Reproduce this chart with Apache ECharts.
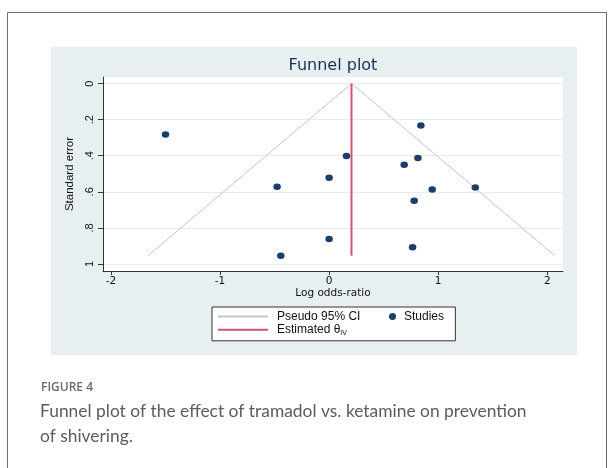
<!DOCTYPE html>
<html>
<head>
<meta charset="utf-8">
<script src="https://cdn.jsdelivr.net/npm/echarts@6/dist/echarts.min.js"></script>
<style>
  html, body { margin: 0; padding: 0; background: #ffffff; }
  #chart { width: 614px; height: 468px; }
</style>
</head>
<body>
<div id="chart"></div>
<script>
// ---- data ----
const studyPoints = [
  [-1.50, 0.282],
  [0.159, 0.402],
  [0.00, 0.522],
  [-0.477, 0.572],
  [0.00, 0.862],
  [-0.443, 0.954],
  [0.841, 0.232],
  [0.814, 0.412],
  [0.688, 0.450],
  [0.945, 0.587],
  [1.340, 0.576],
  [0.780, 0.650],
  [0.765, 0.908]
];
const funnelLine = [[-1.66, 0.954], [0.205, 0], [2.07, 0.954]];
const estimateLine = [[0.205, 0], [0.205, 0.954]];
const xTicks = [-2, -1, 0, 1, 2];
const xTickLabels = ['-2', '-1', '0', '1', '2'];
const yTicks = [0, 0.2, 0.4, 0.6, 0.8, 1];
const yTickLabels = ['0', '.2', '.4', '.6', '.8', '1'];
const seriesNames = ['Pseudo 95% CI', 'Studies', 'Estimated θIV'];

const chart = echarts.init(document.getElementById('chart'), null, { renderer: 'canvas' });

function tickLabel(ticks, labels) {
  return function (v) {
    for (let i = 0; i < ticks.length; i++) {
      if (Math.abs(ticks[i] - v) < 1e-6) return labels[i];
    }
    return '';
  };
}

const option = {
  animation: false,
  backgroundColor: '#ffffff',
  graphic: [
    {
      type: 'rect', z: -100, silent: true,
      shape: { x: 7.5, y: 12.5, width: 599, height: 500 },
      style: { fill: '#ffffff', stroke: '#6e6e6e', lineWidth: 1 }
    },
    {
      type: 'rect', z: -90, silent: true,
      shape: { x: 51, y: 47, width: 526, height: 308 },
      style: { fill: '#e8eff1' }
    }
  ],
  title: [
    {
      text: 'Funnel plot',
      left: 333, top: 58, textAlign: 'center', padding: 0,
      textStyle: { fontFamily: 'DejaVu Sans', fontSize: 16, fontWeight: 'normal', color: '#1e2d55' }
    },
    {
      text: 'FIGURE 4',
      left: 41, top: 382, padding: 0,
      textStyle: { fontFamily: 'Open Sans', fontSize: 12, fontWeight: 600, color: '#6a6a6a' }
    },
    {
      text: 'Funnel plot of the effect of tramadol vs. ketamine on prevention\nof shivering.',
      left: 40, top: 399, padding: 0,
      textStyle: { fontFamily: 'Lato', fontSize: 17.4, fontWeight: 'normal', color: '#5c5c5c', lineHeight: 25 }
    }
  ],
  grid: {
    left: 103, right: 51, top: 77, bottom: 197,
    show: true, backgroundColor: '#ffffff', borderWidth: 0,
    outerBoundsMode: 'none'
  },
  xAxis: {
    type: 'value',
    min: -2.073, max: 2.144,
    name: 'Log odds-ratio',
    nameLocation: 'middle', nameGap: 13,
    nameTextStyle: { fontFamily: 'DejaVu Sans', fontSize: 10.5, color: '#111' },
    axisLine: { show: true, onZero: false, lineStyle: { color: '#333', width: 1 } },
    axisTick: { show: true, length: 4, inside: false, customValues: xTicks, lineStyle: { color: '#333' } },
    axisLabel: {
      customValues: xTicks, margin: 5,
      formatter: tickLabel(xTicks, xTickLabels),
      fontFamily: 'DejaVu Sans', fontSize: 10.5, color: '#111'
    },
    splitLine: { show: false }
  },
  yAxis: {
    type: 'value',
    inverse: true,
    min: -0.0365, max: 1.039,
    name: 'Standard error',
    nameLocation: 'middle', nameGap: 21,
    nameTextStyle: { fontFamily: 'Liberation Sans', fontSize: 11.5, color: '#111' },
    axisLine: { show: true, onZero: false, lineStyle: { color: '#333', width: 1 } },
    axisTick: { show: true, length: 5, inside: false, customValues: yTicks, lineStyle: { color: '#333' } },
    axisLabel: {
      customValues: yTicks, margin: 8, rotate: 90,
      formatter: tickLabel(yTicks, yTickLabels),
      fontFamily: 'Liberation Sans', fontSize: 11, color: '#111'
    },
    splitLine: { show: true, lineStyle: { color: '#e6eef1', width: 1 } }
  },
  legend: [
    {
      data: [seriesNames[0], seriesNames[2]],
      orient: 'vertical',
      left: 212, top: 307,
      padding: [3.5, 95, 4.5, 5],
      itemGap: 1.3,
      itemWidth: 50, itemHeight: 10,
      borderColor: '#333', borderWidth: 1, borderRadius: 0,
      backgroundColor: '#ffffff',
      selectedMode: false,
      itemStyle: { color: 'transparent', borderColor: 'transparent', borderWidth: 0, opacity: 0 },
      formatter: function (name) {
        if (name === seriesNames[2]) return '{a|Estimated θ}{s|IV}';
        return '{a|' + name + '}';
      },
      textStyle: {
        fontFamily: 'Liberation Sans', fontSize: 12, color: '#111', padding: [0, 0, 0, 4],
        rich: {
          a: { fontFamily: 'Liberation Sans', fontSize: 12, color: '#111' },
          s: { fontFamily: 'Liberation Sans', fontSize: 7, color: '#111', padding: [6, 0, 0, 0] }
        }
      }
    },
    {
      data: [seriesNames[1]],
      orient: 'horizontal',
      left: 389, top: 310.5,
      padding: 0,
      itemWidth: 7, itemHeight: 7,
      selectedMode: false,
      textStyle: { fontFamily: 'Liberation Sans', fontSize: 12, color: '#111', padding: [0, 0, 0, 3] }
    }
  ],
  series: [
    {
      name: seriesNames[0],
      type: 'line',
      data: funnelLine,
      symbol: 'none',
      lineStyle: { color: '#c6c6c6', width: 1 },
      itemStyle: { color: '#c6c6c6' },
      z: 2
    },
    {
      name: seriesNames[2],
      type: 'line',
      data: estimateLine,
      symbol: 'none',
      lineStyle: { color: '#d4546f', width: 2 },
      itemStyle: { color: '#d4546f' },
      z: 3
    },
    {
      name: seriesNames[1],
      type: 'scatter',
      data: studyPoints,
      symbol: 'circle',
      symbolSize: [7.5, 6.5],
      itemStyle: { color: '#1a3f6b', opacity: 1 },
      z: 4
    }
  ]
};

chart.setOption(option);
</script>
</body>
</html>
